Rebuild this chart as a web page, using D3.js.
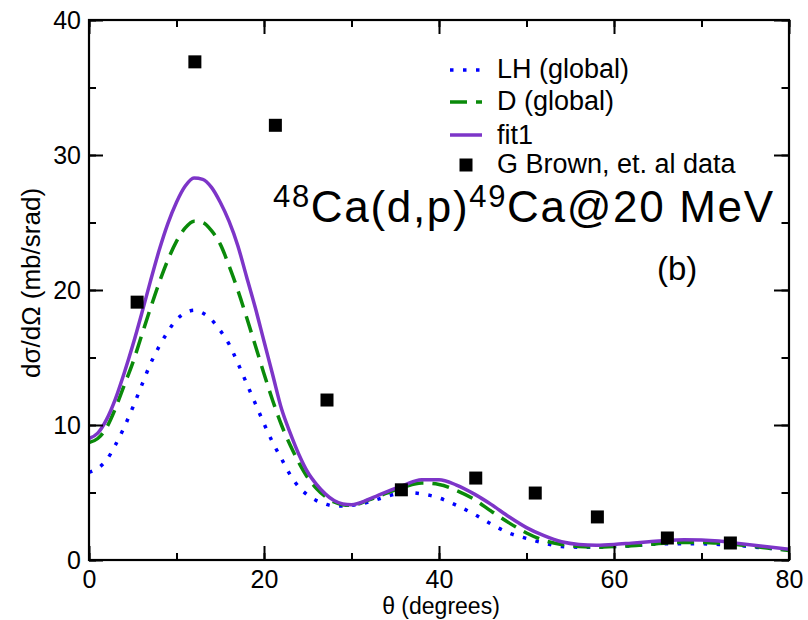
<!DOCTYPE html>
<html><head><meta charset="utf-8">
<script src="https://cdn.jsdelivr.net/npm/d3@7"></script>
<style>body{margin:0;background:#fff}svg{display:block;font-family:"Liberation Sans",Arial,sans-serif}</style>
</head><body><svg id="c" width="808" height="620"></svg>
<script>
const theta = [0,1,2,3,4,5,6,7,8,9,10,11,12,13,14,15,16,17,18,19,20,21,22,23,24,25,26,27,28,29,30,32,34,36,38,40,42,44,46,48,50,52,54,56,58,60,62,64,66,68,70,72,74,76,78,80];
const lhGlobal = [6.5,6.8,7.4,8.5,9.8,11.3,12.9,14.5,15.8,16.9,17.8,18.3,18.5,18.3,17.8,17.0,16.0,14.6,13.1,11.6,10.1,8.7,7.5,6.3,5.4,4.8,4.4,4.15,4.0,4.0,4.05,4.3,4.7,5.0,4.9,4.6,4.05,3.4,2.65,2.0,1.6,1.25,1.0,0.95,0.95,1.0,1.05,1.15,1.2,1.2,1.2,1.15,1.1,0.95,0.85,0.75];
const dGlobal = [8.7,9.0,9.8,11.2,12.9,14.6,16.6,18.6,20.5,22.2,23.6,24.6,25.1,25.0,24.4,23.4,21.8,20.0,18.0,15.9,13.8,11.8,10.0,8.5,7.2,6.1,5.3,4.7,4.3,4.1,4.05,4.45,4.95,5.4,5.7,5.6,5.15,4.5,3.6,2.75,2.0,1.45,1.15,1.0,0.95,1.0,1.05,1.15,1.25,1.3,1.3,1.25,1.15,1.0,0.85,0.7];
const fit1 = [9.0,9.4,10.4,11.9,13.8,15.9,18.2,20.6,22.9,24.9,26.5,27.7,28.3,28.2,27.6,26.5,25.1,23.3,21.0,18.7,16.2,13.7,11.2,9.4,7.8,6.5,5.6,4.9,4.4,4.15,4.1,4.5,5.05,5.55,5.95,5.95,5.55,4.9,4.1,3.2,2.4,1.8,1.35,1.15,1.1,1.15,1.25,1.35,1.45,1.5,1.48,1.4,1.25,1.1,0.95,0.8];
const dataTheta = [5.5,12.1,21.3,27.2,35.7,44.2,51.0,58.1,66.1,73.3];
const dataXS = [19.1,36.9,32.2,11.85,5.2,6.07,4.96,3.19,1.63,1.26];
const xTicks = [0,20,40,60,80];
const yTicks = [0,10,20,30,40];
const legendLabels = ["LH (global)","D (global)","fit1","G Brown, et. al data"];

const svg = d3.select("#c");
const L=89,R=789,T=20,B=560;
const x = d3.scaleLinear().domain([0,80]).range([L,R]);
const y = d3.scaleLinear().domain([0,40]).range([B,T]);

const colors = {lh:"#0000ff", d:"#0a8a0a", fit:"#7d35c8"};
const styles = [
  {vals:lhGlobal, color:colors.lh, dash:"3.5 9.5", w:3.5},
  {vals:dGlobal, color:colors.d, dash:"17 9", w:3.5},
  {vals:fit1, color:colors.fit, dash:null, w:3.5}
];

svg.append("clipPath").attr("id","clip").append("rect").attr("x",L).attr("y",T).attr("width",R-L).attr("height",B-T);
const plot = svg.append("g").attr("clip-path","url(#clip)");
const line = d3.line().curve(d3.curveMonotoneX);
styles.forEach(s=>{
  plot.append("path").attr("d", line(theta.map((t,i)=>[x(t),y(s.vals[i])])))
    .attr("fill","none").attr("stroke",s.color).attr("stroke-width",s.w)
    .attr("stroke-dasharray",s.dash);
});
const sq=13;
svg.selectAll("rect.pt").data(dataTheta).enter().append("rect").attr("class","pt")
  .attr("x",(d)=>x(d)-sq/2).attr("y",(d,i)=>y(dataXS[i])-sq/2).attr("width",sq).attr("height",sq).attr("fill","#000");

// axes with inward ticks on four sides
const fmt = d3.format("d");
const xMinor = d3.range(0,81,10), yMinor = d3.range(0,41,5);
function tickAxis(axisFn, scale, major, minor, len, transform){
  const gMin = svg.append("g").attr("transform",transform).call(axisFn(scale).tickValues(minor).tickSize(len/2).tickFormat(""));
  const gMaj = svg.append("g").attr("transform",transform).call(axisFn(scale).tickValues(major).tickSize(len).tickFormat(""));
  [gMin,gMaj].forEach(g=>{g.select(".domain").remove(); g.selectAll("line").attr("stroke","#000").attr("stroke-width",2);});
}
tickAxis(d3.axisTop, x, xTicks, xMinor, 14, `translate(0,${B})`);
tickAxis(d3.axisBottom, x, xTicks, xMinor, 14, `translate(0,${T})`);
tickAxis(d3.axisRight, y, yTicks, yMinor, 14, `translate(${L},0)`);
tickAxis(d3.axisLeft, y, yTicks, yMinor, 15, `translate(${R},0)`);
svg.append("rect").attr("x",L).attr("y",T).attr("width",R-L).attr("height",B-T).attr("fill","none").attr("stroke","#000").attr("stroke-width",2.2);

// tick labels
const gx = svg.append("g").attr("transform",`translate(0,${B})`).call(d3.axisBottom(x).tickValues(xTicks).tickSize(0).tickPadding(0).tickFormat(fmt));
gx.select(".domain").remove();
gx.selectAll("text").attr("font-size",25).attr("font-family","Liberation Sans, Arial, sans-serif").attr("fill","#000").attr("dy",null).attr("y",28);
const gy = svg.append("g").attr("transform",`translate(${L},0)`).call(d3.axisLeft(y).tickValues(yTicks).tickSize(0).tickPadding(0).tickFormat(fmt));
gy.select(".domain").remove();
gy.selectAll("text").attr("font-size",25).attr("font-family","Liberation Sans, Arial, sans-serif").attr("fill","#000").attr("x",-8).attr("dy","0.35em");

// axis titles
svg.append("text").attr("x",441).attr("y",614).attr("text-anchor","middle").attr("font-size",23).text("θ (degrees)");
svg.append("text").attr("transform","translate(40,283) rotate(-90)").attr("text-anchor","middle").attr("font-size",26).text("dσ/dΩ (mb/srad)");

// title
const tt = svg.append("text").attr("x",273).attr("y",222).attr("font-size",44).attr("textLength",500).attr("lengthAdjust","spacing");
tt.append("tspan").attr("font-size",31).attr("dy",-15).text("48");
tt.append("tspan").attr("dy",15).text("Ca(d,p)");
tt.append("tspan").attr("font-size",31).attr("dy",-15).text("49");
tt.append("tspan").attr("dy",15).text("Ca@20 MeV");
svg.append("text").attr("x",657).attr("y",280).attr("font-size",33).text("(b)");

// legend
const ly=[70,102,135,165];
styles.forEach((s,i)=>{
  svg.append("line").attr("x1",450).attr("x2",482).attr("y1",ly[i]).attr("y2",ly[i])
    .attr("stroke",s.color).attr("stroke-width",s.w).attr("stroke-dasharray",s.dash);
});
svg.append("rect").attr("x",466-sq/2).attr("y",ly[3]-sq/2).attr("width",sq).attr("height",sq).attr("fill","#000");
legendLabels.forEach((t,i)=>{
  svg.append("text").attr("x",497).attr("y",ly[i]+8+(i==2?1:0)).attr("font-size",27).text(t);
});
</script></body></html>
